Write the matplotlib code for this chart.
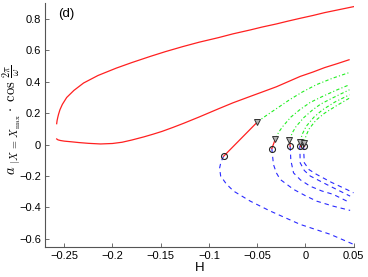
import numpy as np
import matplotlib
matplotlib.use("Agg")
import matplotlib.pyplot as plt

plt.rcParams["font.family"] = ["Liberation Sans", "DejaVu Sans"]
plt.rcParams["mathtext.fontset"] = "cm"

# main periodic branch (red, stable), two pieces
h_upper = [-0.2579, -0.2575, -0.2568, -0.2560, -0.2545, -0.2520, -0.2475, -0.2400,
           -0.2300, -0.2150, -0.1960, -0.1800, -0.1610, -0.1450, -0.1270, -0.1100,
           -0.0900, -0.0750, -0.0570, -0.0450, -0.0300, -0.0180, -0.0053, 0.0080,
           0.0200, 0.0350, 0.0500]
y_upper = [0.133, 0.152, 0.172, 0.192, 0.222, 0.256, 0.300, 0.345,
           0.392, 0.440, 0.487, 0.522, 0.561, 0.592, 0.624, 0.652,
           0.681, 0.705, 0.730, 0.748, 0.768, 0.786, 0.804, 0.822,
           0.840, 0.859, 0.878]
h_lower = [-0.2579, -0.2565, -0.2540, -0.2500, -0.2430, -0.2350, -0.2250, -0.2124,
           -0.2000, -0.1900, -0.1800, -0.1675, -0.1580, -0.1486, -0.1370, -0.1260,
           -0.1100, -0.0900, -0.0750, -0.0570, -0.0450, -0.0300, -0.0180, -0.0053,
           0.0080, 0.0200, 0.0330, 0.0454]
y_lower = [0.036, 0.030, 0.026, 0.022, 0.018, 0.013, 0.008, 0.004,
           0.007, 0.015, 0.029, 0.049, 0.066, 0.084, 0.110, 0.136,
           0.176, 0.228, 0.266, 0.307, 0.334, 0.368, 0.400, 0.434,
           0.462, 0.490, 0.515, 0.540]

# bifurcation points: circles (lower) and triangles (upper)
circ_h = [-0.0847, -0.0347, -0.0157, -0.0057, -0.0016]
circ_y = [-0.074, -0.025, -0.011, -0.006, -0.006]
tri_h = [-0.050, -0.031, -0.0164, -0.0057, -0.0016]
tri_y = [0.142, 0.036, 0.027, 0.015, 0.013]

# green (upper) dash-dot branches
green_h = [
    [-0.050, -0.044, -0.0369, -0.0260, -0.0162, -0.0030, 0.0114, 0.0280, 0.0458],
    [-0.031, -0.0275, -0.0233, -0.0150, -0.0057, 0.0050, 0.018, 0.0320, 0.0458],
    [-0.0164, -0.0135, -0.0095, -0.0015, 0.0078, 0.0160, 0.026, 0.0360, 0.0458],
    [-0.0057, -0.0030, 0.0009, 0.0090, 0.018, 0.0310, 0.0458],
    [-0.0016, 0.0010, 0.004, 0.0110, 0.020, 0.0330, 0.0458],
]
green_y = [
    [0.142, 0.170, 0.200, 0.245, 0.286, 0.335, 0.381, 0.422, 0.459],
    [0.036, 0.080, 0.116, 0.175, 0.222, 0.268, 0.307, 0.346, 0.381],
    [0.027, 0.075, 0.116, 0.172, 0.222, 0.258, 0.290, 0.320, 0.349],
    [0.015, 0.068, 0.116, 0.175, 0.222, 0.272, 0.317],
    [0.013, 0.060, 0.100, 0.155, 0.200, 0.250, 0.296],
]

# blue (lower) dashed branches
blue_h = [
    [-0.0847, -0.0875, -0.0889, -0.0878, -0.0820, -0.0744, -0.0571, -0.0364, -0.0053, 0.0258, 0.05],
    [-0.0347, -0.0340, -0.033, -0.030, -0.026, -0.0122, 0.0000, 0.0118, 0.0290, 0.0465],
    [-0.0157, -0.0150, -0.0122, -0.0050, 0.0051, 0.0170, 0.029, 0.0465],
    [-0.0057, -0.0055, -0.0053, -0.0010, 0.0051, 0.0222, 0.0340, 0.0465],
    [-0.0016, -0.0015, -0.0010, 0.0040, 0.0118, 0.0270, 0.043, 0.05],
]
blue_y = [
    [-0.074, -0.110, -0.150, -0.200, -0.250, -0.296, -0.360, -0.423, -0.508, -0.571, -0.635],
    [-0.025, -0.070, -0.127, -0.180, -0.222, -0.285, -0.325, -0.360, -0.392, -0.419],
    [-0.011, -0.100, -0.180, -0.225, -0.265, -0.295, -0.317, -0.370],
    [-0.006, -0.060, -0.116, -0.165, -0.200, -0.254, -0.290, -0.328],
    [-0.006, -0.060, -0.116, -0.160, -0.190, -0.240, -0.286, -0.307],
]

x_ticks = [-0.25, -0.2, -0.15, -0.1, -0.05, 0, 0.05]
x_ticklabels = ["\u22120.25", "\u22120.2", "\u22120.15", "\u22120.1", "\u22120.05", "0", "0.05"]
y_ticks = [-0.6, -0.4, -0.2, 0, 0.2, 0.4, 0.6, 0.8]
y_ticklabels = ["\u22120.6", "\u22120.4", "\u22120.2", "0", "0.2", "0.4", "0.6", "0.8"]

fig = plt.figure(figsize=(3.68, 2.77), dpi=100)
ax = fig.add_axes([0.1223, 0.1094, 0.8383, 0.879])

ax.plot(h_upper, y_upper, color="#ff2020", lw=0.9)
ax.plot(h_lower, y_lower, color="#ff2020", lw=0.9)

for gh, gy in zip(green_h, green_y):
    ax.plot(gh, gy, color="#22ee22", lw=0.8, ls=(0, (3, 2, 1, 2)))
for bh, by in zip(blue_h, blue_y):
    ax.plot(bh, by, color="#2a2aff", lw=0.8, ls=(0, (4, 3.5)))

# red segments joining circle to triangle
for ch, cy, th, ty in zip(circ_h, circ_y, tri_h, tri_y):
    ax.plot([ch, th], [cy, ty], color="#ff2020", lw=0.9)

ax.plot(circ_h, circ_y, ls="none", marker="o", ms=4.3, mfc="none",
        mec="#222222", mew=0.8)
ax.plot(tri_h, tri_y, ls="none", marker="v", ms=4.8, mfc="#b5b5b5",
        mec="#333333", mew=0.7)

ax.set_xlim(-0.27, 0.05)
ax.set_ylim(-0.65, 0.9)
ax.set_xticks(x_ticks)
ax.set_xticklabels(x_ticklabels)
ax.set_yticks(y_ticks)
ax.set_yticklabels(y_ticklabels)
ax.tick_params(direction="in", length=3, width=0.6, labelsize=8, pad=3,
               color="#555555")
for s in ["top", "right"]:
    ax.spines[s].set_visible(False)
for s in ["left", "bottom"]:
    ax.spines[s].set_color("#555555")
    ax.spines[s].set_linewidth(0.8)

ax.set_xlabel("H", fontsize=9.5, labelpad=1)
ax.set_ylabel(r"$a\;\left|_{X\,=\,X_{\max}}\right.\cdot\;\cos\,\frac{2\pi}{\omega}$",
              fontsize=10.5)
ax.yaxis.set_label_coords(-0.07, 0.52)
ax.text(-0.2475, 0.83, "(d)", fontsize=9.5, ha="center", va="center")

fig.savefig("out.png", dpi=100)
